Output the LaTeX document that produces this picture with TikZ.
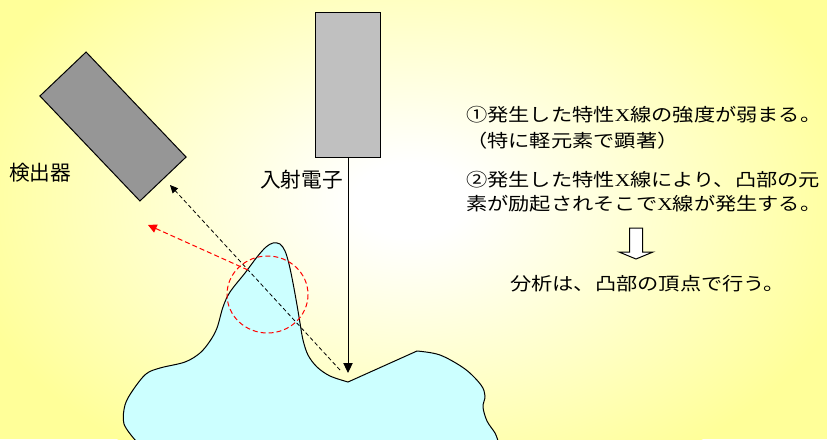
\documentclass[tikz,border=0pt]{standalone}
\usepackage{fontspec}
\usetikzlibrary{arrows.meta}
\newfontfamily\jplabel{Noto Sans CJK JP}
\newfontfamily\jptext[FakeStretch=1.18]{Noto Sans CJK JP}
\newfontfamily\jpserif[FakeStretch=1.18]{Liberation Serif}
\definecolor{bgyellow}{HTML}{FFFF99}
\definecolor{specimen}{HTML}{CCFFFF}
\definecolor{colgray}{HTML}{C0C0C0}
\definecolor{detgray}{HTML}{969696}
\definecolor{rayred}{HTML}{FF0000}
% the path's bounding box covers the inner 50bp of the shading, so its edge sits at 25bp
\pgfdeclareradialshading{bgglow}{\pgfpoint{0bp}{0bp}}{color(0bp)=(white); color(3bp)=(white); color(25bp)=(bgyellow); color(50bp)=(bgyellow)}
\newcommand{\Xs}{{\jpserif X}}

\begin{document}
\begin{tikzpicture}[x=0.75pt,y=-0.75pt,
  outline/.style={draw=black,line width=0.75pt},
  labeltext/.style={font=\jplabel\fontsize{15.5pt}{18pt}\selectfont,inner sep=0pt,anchor=west},
  infotext/.style={font=\jptext\fontsize{13.5pt}{16pt}\selectfont,inner sep=0pt,anchor=west,
                   text height=0.88em,text depth=0.12em},
  beam/.style={draw=black,line width=0.75pt,-{Triangle[length=7.5pt,width=7pt]}},
  xray/.style={draw=black,line width=0.6pt,dash pattern=on 3pt off 2pt,-{Triangle[length=6pt,width=5.5pt]}},
  redray/.style={draw=rayred,line width=0.75pt,dash pattern=on 3.75pt off 2.25pt,-{Triangle[length=6.5pt,width=6.5pt]}},
  redring/.style={draw=rayred,line width=0.75pt,dash pattern=on 3.75pt off 2.25pt}]

\useasboundingbox (0,0) rectangle (827,439);
\clip (0,0) rectangle (827,439);

% background: pale glow fading into yellow
\fill[bgyellow] (0,0) rectangle (827,439);
\shade[shading=bgglow] (410,200) ellipse [x radius=460, y radius=310];

% specimen surface with a sharp protrusion
\path[outline,fill=specimen]
  plot[smooth,tension=0.55] coordinates {
    (136,441) (124,424) (125,405) (133,390) (146,374) (160,368) (185,362)
    (200,353) (210,341) (217,328) (223,307) (230,292) (245,273) (257,257)
    (266,247) (273,243) (280,244) (285,251) (289,264) (293,283) (297,305)
    (300,323) (303,340) (308,355) (317,367) (330,376) (348,382)}
  -- plot[smooth,tension=0.55] coordinates {
    (417,351) (440,355) (465,369) (481,385) (485,396) (483,407) (487,421)
    (495,433) (498,441)}
  -- (498,450) -- (130,450) -- cycle;

% electron column and detector
\node[outline,fill=colgray,minimum width=48.75pt,minimum height=109.1pt,inner sep=0pt]
  (column) at (348,84.75) {};
\node[outline,fill=detgray,minimum width=108.75pt,minimum height=47.8pt,inner sep=0pt,rotate=-46.4]
  (detector) at (113,126.5) {};

% key points on the specimen
\coordinate (beamtip) at (348,373);
\coordinate (emit) at (340,370);
\coordinate (dettip) at (170,185);
\coordinate (cross) at (248,270);
\coordinate (redtip) at (148,225);
\coordinate (ringc) at (267.5,294.5);

% incident beam and X-ray paths
\draw[beam] (column.south) -- (beamtip);
\draw[xray] (emit) -- (dettip);
\draw[redray] (cross) -- (redtip);
\draw[redring] (ringc) ellipse [x radius=40.5, y radius=38.5];

% labels
\node[labeltext] (detlabel) at (9,173) {検出器};
\node[labeltext] (beamlabel) at (260,179.5) {入射電子};

% explanation
\node[infotext] (line1) at (466,116) {①発生した特性\Xs 線の強度が弱まる。};
\node[infotext] (line2) at (466,142) {（特に軽元素で顕著）};
\node[infotext] (line3) at (466,181) {②発生した特性\Xs 線により、凸部の元};
\node[infotext] (line4) at (466,205) {素が励起されそこで\Xs 線が発生する。};
\node[infotext] (concl) at (510,285) {分析は、凸部の頂点で行う。};

% block arrow leading to the conclusion
\draw[outline,fill=white] (629.5,228) -- (642.5,228) -- (642.5,252) -- (653,252)
  -- (636,259) -- (619,252) -- (629.5,252) -- cycle;
\end{tikzpicture}
\end{document}
